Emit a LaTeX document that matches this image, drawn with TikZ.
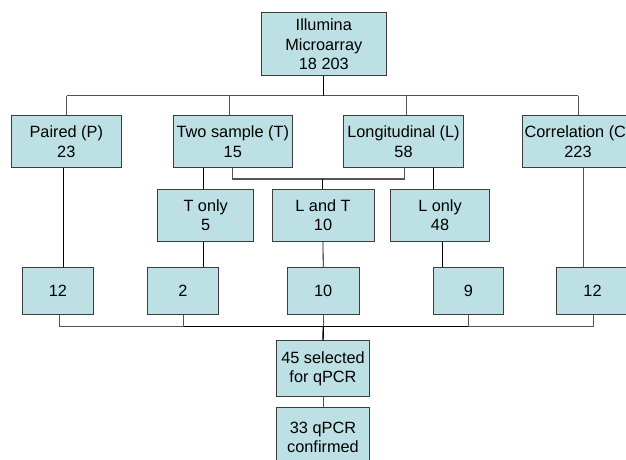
\documentclass[tikz,border=0pt]{standalone}
\usepackage{fontspec}
\setmainfont{Liberation Sans}
\definecolor{boxfill}{RGB}{188,224,227}
\definecolor{boxline}{RGB}{60,60,60}
\definecolor{conn}{RGB}{85,85,85}
\begin{document}
\begin{tikzpicture}[x=1pt,y=-1pt,
  box/.style={draw=boxline,fill=boxfill,line width=0.8pt,inner sep=0pt,align=center,
    font=\fontsize{16.3}{19.3}\selectfont},
  conn/.style={draw=conn,line width=0.8pt},
  thickconn/.style={draw=black,line width=1.4pt}]
\useasboundingbox (0,0) rectangle (626,460);
% nodes
\node[box,minimum width=124.3pt,minimum height=63pt] (ill) at (323.8,44.2) {Illumina\\Microarray\\18 203};
\node[box,minimum width=109.3pt,minimum height=51.8pt] (pair) at (66.3,141.6) {Paired (P)\\23};
\node[box,minimum width=119pt,minimum height=51.8pt] (two) at (232.8,141.6) {Two sample (T)\\15};
\node[box,minimum width=120.4pt,minimum height=51.8pt] (long) at (403.5,141.6) {Longitudinal (L)\\58};
\node[box,minimum width=112pt,minimum height=51.8pt] (corr) at (578,141.6) {Correlation (C)\\223};
\node[box,minimum width=96pt,minimum height=52pt] (tonly) at (205.7,215.3) {T only\\5};
\node[box,minimum width=102pt,minimum height=52pt] (lt) at (323,215.3) {L and T\\10};
\node[box,minimum width=98.6pt,minimum height=52pt] (lonly) at (440,215.3) {L only\\48};
\node[box,minimum width=71.4pt,minimum height=47pt] (r1) at (58,290.8) {12};
\node[box,minimum width=71.4pt,minimum height=47pt] (r2) at (183,290.8) {2};
\node[box,minimum width=71.7pt,minimum height=47pt] (r3) at (323.2,290.8) {10};
\node[box,minimum width=70pt,minimum height=47pt] (r4) at (468.3,290.8) {9};
\node[box,minimum width=71.4pt,minimum height=47pt] (r5) at (592.5,290.8) {12};
\node[box,minimum width=92.6pt,minimum height=56pt] (sel) at (323,368.7) {45 selected\\for qPCR};
\node[box,minimum width=92.6pt,minimum height=60.6pt] (conf) at (323,437.6) {33 qPCR\\confirmed};
% junction coordinates
\coordinate (b1L) at (66.7,95.7);
\coordinate (b1T) at (229.3,95.7);
\coordinate (b1M) at (323.3,95.7);
\coordinate (b1Lg) at (406.7,95.7);
\coordinate (b1R) at (578.3,95.7);
\coordinate (brL) at (232.3,179);
\coordinate (brM) at (322.3,179);
\coordinate (brR) at (404.3,179);
\coordinate (xP) at (63.5,0);
\coordinate (xT) at (203.5,0);
\coordinate (xLo) at (433.3,0);
\coordinate (xLo2) at (442.3,0);
\coordinate (xC) at (583.7,0);
\coordinate (b2a) at (59,326.7);
\coordinate (b2b) at (183.7,326.7);
\coordinate (b2c) at (323.3,326.7);
\coordinate (b2d) at (468.3,326.7);
\coordinate (b2e) at (593.3,326.7);
% top bus
\draw[conn] (b1L) -- (b1R);
\draw[conn,draw=black] (ill.south) -- (ill.south |- b1M);
\draw[conn] (b1L) -- (b1L |- pair.north);
\draw[conn] (b1T) -- (b1T |- two.north);
\draw[conn] (b1Lg) -- (b1Lg |- long.north);
\draw[conn] (b1R) -- (b1R |- corr.north);
% bracket
\draw[conn,line width=1.1pt] (brL |- two.south) -- (brL) -- (brR) -- (brR |- long.south);
\draw[conn,draw=black] (brM) -- (brM |- lt.north);
\draw[conn,draw=black] (xT |- two.south) -- (xT |- tonly.north);
\draw[conn,draw=black] (xLo |- long.south) -- (xLo |- lonly.north);
% to row 4
\draw[conn,draw=black] (xP |- pair.south) -- (xP |- r1.north);
\draw[conn,draw=black] (xT |- tonly.south) -- (xT |- r2.north);
\draw[conn,draw=black] (lt.south) -- (r3.north);
\draw[conn,draw=black] (xLo2 |- lonly.south) -- (xLo2 |- r4.north);
\draw[conn,line width=1pt] (xC |- corr.south) -- (xC |- r5.north);
% bottom bus
\draw[conn] (b2a |- r1.south) -- (b2a) -- (b2b);
\draw[conn] (b2b |- r2.south) -- (b2b);
\draw[conn] (b2c |- r3.south) -- (b2c);
\draw[conn] (b2d |- r4.south) -- (b2d);
\draw[conn] (b2e |- r5.south) -- (b2e) -- (b2d);
\draw[thickconn] (b2b) -- (b2d);
\draw[thickconn] (b2c) -- (sel.north);
\draw[conn] (sel.south) -- (conf.north);
\end{tikzpicture}
\end{document}
